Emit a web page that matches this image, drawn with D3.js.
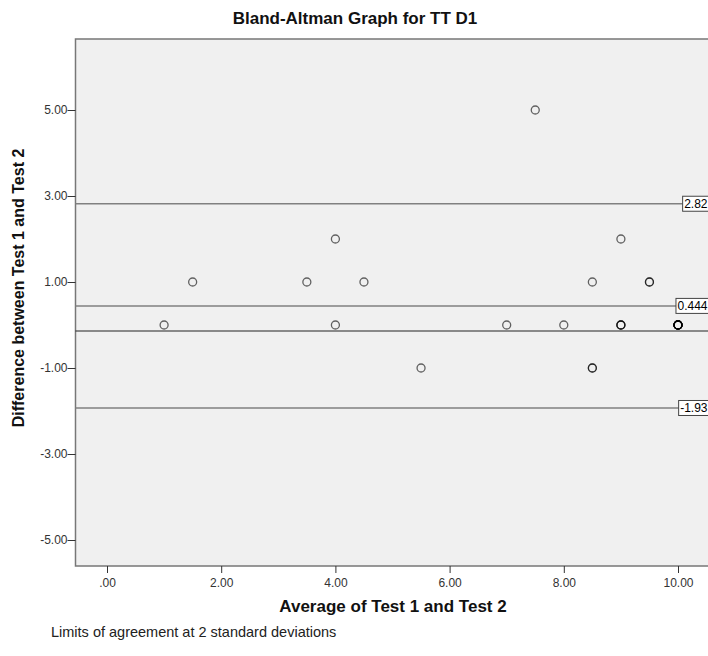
<!DOCTYPE html>
<html>
<head>
<meta charset="utf-8">
<script src="https://cdn.jsdelivr.net/npm/d3@7"></script>
<style>
  body { margin: 0; background: #fff; }
  text { font-family: "Liberation Sans", Arial, sans-serif; }
</style>
</head>
<body>
<script>
// Average of the two tests and their difference, one entry per subject
const averages = [1, 1.5, 3.5, 4, 4, 4.5, 5.5, 7, 7.5, 8, 8.5, 8.5, 8.5, 9, 9, 9, 9, 9.5, 9.5, 10, 10, 10, 10, 10, 10, 10, 10];
const differences = [0, 1, 1, 2, 0, 1, -1, 0, 5, 0, 1, -1, -1, 2, 0, 0, 0, 1, 1, 0, 0, 0, 0, 0, 0, 0, 0];

const limitValues = [2.82, 0.444, -1.93];
const limitLabels = ["2.82", "0.444", "-1.93"];
const baselineValue = [-0.14];

const xTicks = [0, 2, 4, 6, 8, 10];
const yTicks = [5, 3, 1, -1, -3, -5];

const WIDTH = 708;
const HEIGHT = 656;
const MARGIN = { top: 39, right: -3, bottom: 90, left: 75.5 };

const svg = d3.select("body").append("svg")
  .attr("width", WIDTH)
  .attr("height", HEIGHT);

const xScale = d3.scaleLinear()
  .domain([0, 10])
  .range([107, 678]);

const yScale = d3.scaleLinear()
  .domain([-5, 5])
  .range([540, 110]);

const plotRight = WIDTH - MARGIN.right;
const plotBottom = HEIGHT - MARGIN.bottom;

// SPSS style: ".00", plain hyphen for negatives
const fmt = v => d3.format(".2f")(v).replace("\u2212", "-").replace(/^0\./, ".");

// plot background and frame
svg.append("rect")
  .attr("x", MARGIN.left)
  .attr("y", MARGIN.top)
  .attr("width", plotRight - MARGIN.left)
  .attr("height", plotBottom - MARGIN.top)
  .attr("fill", "#f0f0f0")
  .attr("stroke", "#777")
  .attr("stroke-width", 1.5);

// axes
const xAxis = d3.axisBottom(xScale).tickValues(xTicks).tickFormat(fmt).tickSize(7).tickSizeOuter(0);
const yAxis = d3.axisLeft(yScale).tickValues(yTicks).tickFormat(fmt).tickSize(8).tickSizeOuter(0);

const gx = svg.append("g")
  .attr("transform", `translate(0,${plotBottom})`)
  .call(xAxis);
gx.select(".domain").remove();
gx.selectAll("line").attr("stroke", "#333");
gx.selectAll("text").attr("font-size", 12).attr("fill", "#333").attr("dy", "0.9em");

const gy = svg.append("g")
  .attr("transform", `translate(${MARGIN.left},0)`)
  .call(yAxis);
gy.select(".domain").remove();
gy.selectAll("line").attr("stroke", "#333");
gy.selectAll("text").attr("font-size", 12).attr("fill", "#333").attr("x", -8);

// reference lines
svg.append("g")
  .selectAll("line")
  .data(limitValues)
  .join("line")
  .attr("x1", MARGIN.left)
  .attr("x2", plotRight)
  .attr("y1", d => yScale(d))
  .attr("y2", d => yScale(d))
  .attr("stroke", "#808080")
  .attr("stroke-width", 1.5);

svg.append("g")
  .selectAll("line")
  .data(baselineValue)
  .join("line")
  .attr("x1", MARGIN.left)
  .attr("x2", plotRight)
  .attr("y1", d => yScale(d))
  .attr("y2", d => yScale(d))
  .attr("stroke", "#222")
  .attr("stroke-width", 1.2);

// points
svg.append("g")
  .selectAll("circle")
  .data(averages.map((a, i) => [a, differences[i]]))
  .join("circle")
  .attr("cx", d => xScale(d[0]))
  .attr("cy", d => yScale(d[1]))
  .attr("r", 4)
  .attr("fill", "none")
  .attr("stroke", "#000")
  .attr("stroke-opacity", 0.6)
  .attr("stroke-width", 1.3);

// labels on reference lines
const labels = svg.append("g")
  .selectAll("g")
  .data(limitValues)
  .join("g");

labels.each(function (d, i) {
  const g = d3.select(this);
  const rect = g.append("rect");
  const t = g.append("text")
    .attr("font-size", 12)
    .attr("fill", "#000")
    .attr("y", yScale(d))
    .attr("dy", "0.35em")
    .text(limitLabels[i]);
  const w = t.node().getComputedTextLength();
  const x0 = 709 - w - 3;
  t.attr("x", x0 + 1.5);
  rect.attr("x", x0)
    .attr("y", yScale(d) - 7.5)
    .attr("width", w + 3)
    .attr("height", 15)
    .attr("fill", "#fff")
    .attr("stroke", "#444")
    .attr("stroke-width", 1);
});

// titles
svg.append("text")
  .attr("x", 355)
  .attr("y", 24)
  .attr("text-anchor", "middle")
  .attr("font-size", 17)
  .attr("font-weight", "bold")
  .attr("fill", "#111")
  .text("Bland-Altman Graph for TT D1");

svg.append("text")
  .attr("x", 393)
  .attr("y", 612)
  .attr("text-anchor", "middle")
  .attr("font-size", 17)
  .attr("font-weight", "bold")
  .attr("fill", "#111")
  .text("Average of Test 1 and Test 2");

svg.append("text")
  .attr("transform", "translate(24,288) rotate(-90)")
  .attr("text-anchor", "middle")
  .attr("font-size", 16)
  .attr("font-weight", "bold")
  .attr("fill", "#111")
  .text("Difference between Test 1 and Test 2");

svg.append("text")
  .attr("x", 51)
  .attr("y", 637)
  .attr("font-size", 14.5)
  .attr("fill", "#222")
  .text("Limits of agreement at 2 standard deviations");
</script>
</body>
</html>
